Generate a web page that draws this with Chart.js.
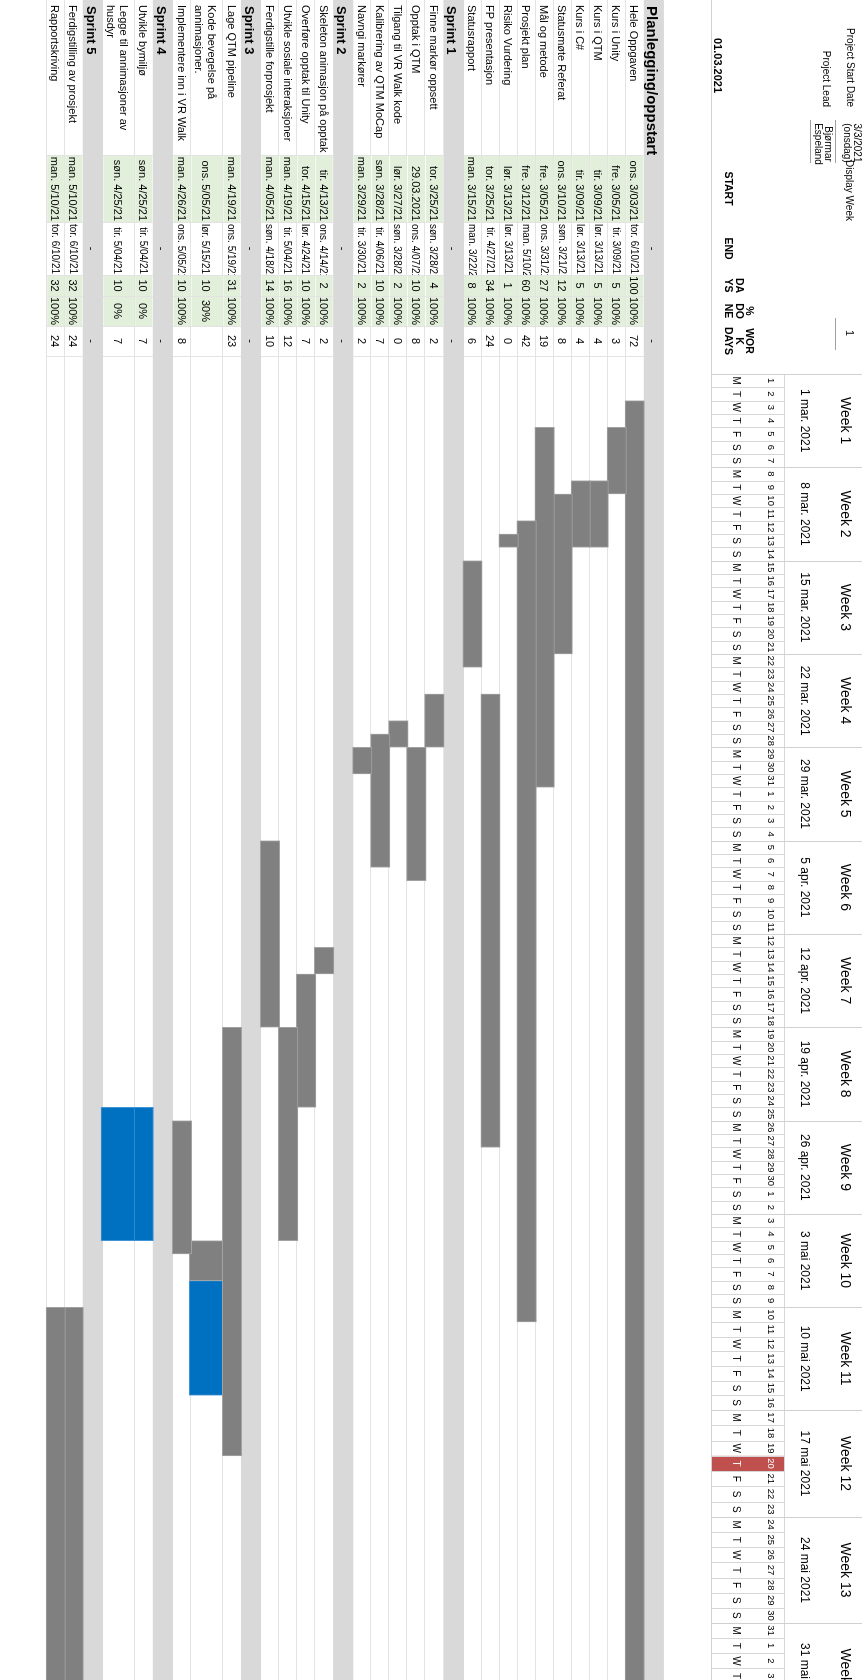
<!DOCTYPE html>
<html>
<head>
<meta charset="utf-8">
<script src="https://cdn.jsdelivr.net/npm/chart.js@4.4.1/dist/chart.umd.min.js"></script>
<style>
  html, body { margin: 0; padding: 0; background: #fff; }
  body { width: 862px; height: 1680px; overflow: hidden; position: relative; }
  /* the sheet is drawn landscape and turned a quarter clockwise */
  #sheet { position: absolute; left: 0; top: 0; width: 1680px; height: 862px;
           transform-origin: 0 0; transform: translate(862px, 0) rotate(90deg); }
</style>
</head>
<body>
<div id="sheet"><canvas id="gantt" width="1680" height="862"></canvas></div>
<script>
const projectStart = '2021-03-01';
const today = '2021-05-20';

const taskNames = [
  'Planlegging/oppstart', 'Hele Oppgaven', 'Kurs i Unity', 'Kurs i QTM', 'Kurs i C#',
  'Statusmøte Referat', 'Mål og metode', 'Prosjekt plan', 'Risiko Vurdering', 'FP presentasjon', 'Statusrapport',
  'Sprint 1', 'Finne markør oppsett', 'Opptak i QTM', 'Tilgang til VR Walk kode', 'Kalibrering av QTM MoCap', 'Navngi markører',
  'Sprint 2', 'Skeleton animasjon på opptak', 'Overføre opptak til Unity', 'Utvikle sosiale interaksjoner', 'Ferdigstille forprosjekt',
  'Sprint 3', 'Lage QTM pipeline', 'Kode bevegelse på\nannimasjoner.', 'Implementere inn i VR Walk',
  'Sprint 4', 'Utvikle bymiljø', 'Legge til annimasjoner av\nhusdyr',
  'Sprint 5', 'Ferdigstilling av prosjekt', 'Rapportskriving'
];
const startDates = [
  null, '2021-03-03', '2021-03-05', '2021-03-09', '2021-03-09',
  '2021-03-10', '2021-03-05', '2021-03-12', '2021-03-13', '2021-03-25', '2021-03-15',
  null, '2021-03-25', '2021-03-29', '2021-03-27', '2021-03-28', '2021-03-29',
  null, '2021-04-13', '2021-04-15', '2021-04-19', '2021-04-05',
  null, '2021-04-19', '2021-05-05', '2021-04-26',
  null, '2021-04-25', '2021-04-25',
  null, '2021-05-10', '2021-05-10'
];
const endDates = [
  null, '2021-06-10', '2021-03-09', '2021-03-13', '2021-03-13',
  '2021-03-21', '2021-03-31', '2021-05-10', '2021-03-13', '2021-04-27', '2021-03-22',
  null, '2021-03-28', '2021-04-07', '2021-03-28', '2021-04-06', '2021-03-30',
  null, '2021-04-14', '2021-04-24', '2021-05-04', '2021-04-18',
  null, '2021-05-19', '2021-05-15', '2021-05-05',
  null, '2021-05-04', '2021-05-04',
  null, '2021-06-10', '2021-06-10'
];
const startLabels = [
  '', 'ons. 3/03/21', 'fre. 3/05/21', 'tir. 3/09/21', 'tir. 3/09/21',
  'ons. 3/10/21', 'fre. 3/05/21', 'fre. 3/12/21', 'lør. 3/13/21', 'tor. 3/25/21', 'man. 3/15/21',
  '', 'tor. 3/25/21', '29.03.2021', 'lør. 3/27/21', 'søn. 3/28/21', 'man. 3/29/21',
  '', 'tir. 4/13/21', 'tor. 4/15/21', 'man. 4/19/21', 'man. 4/05/21',
  '', 'man. 4/19/21', 'ons. 5/05/21', 'man. 4/26/21',
  '', 'søn. 4/25/21', 'søn. 4/25/21',
  '', 'man. 5/10/21', 'man. 5/10/21'
];
const endLabels = [
  '-', 'tor. 6/10/21', 'tir. 3/09/21', 'lør. 3/13/21', 'lør. 3/13/21',
  'søn. 3/21/21', 'ons. 3/31/21', 'man. 5/10/21', 'lør. 3/13/21', 'tir. 4/27/21', 'man. 3/22/21',
  '-', 'søn. 3/28/21', 'ons. 4/07/21', 'søn. 3/28/21', 'tir. 4/06/21', 'tir. 3/30/21',
  '-', 'ons. 4/14/21', 'lør. 4/24/21', 'tir. 5/04/21', 'søn. 4/18/21',
  '-', 'ons. 5/19/21', 'lør. 5/15/21', 'ons. 5/05/21',
  '-', 'tir. 5/04/21', 'tir. 5/04/21',
  '-', 'tor. 6/10/21', 'tor. 6/10/21'
];
const durationDays = [null, 100, 5, 5, 5, 12, 27, 60, 1, 34, 8, null, 4, 10, 2, 10, 2, null, 2, 10, 16, 14, null, 31, 10, 10, null, 10, 10, null, 32, 32];
const percentDone  = [null, 100, 100, 100, 100, 100, 100, 100, 100, 100, 100, null, 100, 100, 100, 100, 100, null, 100, 100, 100, 100, null, 100, 30, 100, null, 0, 0, null, 100, 100];
const workDays     = ['-', 72, 3, 4, 4, 8, 19, 42, 0, 24, 6, '-', 2, 8, 0, 7, 2, '-', 2, 7, 12, 10, '-', 23, null, 8, '-', 7, 7, '-', 24, 24];

const weekLabels = ['Week 1', 'Week 2', 'Week 3', 'Week 4', 'Week 5', 'Week 6', 'Week 7',
  'Week 8', 'Week 9', 'Week 10', 'Week 11', 'Week 12', 'Week 13', 'Week 14'];
const weekDateLabels = ['1 mar. 2021', '8 mar. 2021', '15 mar. 2021', '22 mar. 2021', '29 mar. 2021',
  '5 apr. 2021', '12 apr. 2021', '19 apr. 2021', '26 apr. 2021', '3 mai 2021', '10 mai 2021',
  '17 mai 2021', '24 mai 2021', '31 mai 2021'];
const dayLetters = ['M', 'T', 'W', 'T', 'F', 'S', 'S'];
const VISIBLE_DAYS = 96;

// sheet geometry (landscape coordinates, before the quarter turn)
const FONT = "'Liberation Sans', Arial, sans-serif";
const GANTT_LEFT = 374;
const HEAD_H = 154;
const ROW_H = 20.6, SECTION_H = 23, TALL_H = 36.5;
// the day columns of the sheet get wider from week 11 on; week edges in px from GANTT_LEFT
const WEEK_EDGES = [0, 93.3, 186.7, 280, 373.3, 466.7, 560, 653.3, 746.7, 840, 933.3, 1036, 1143, 1249, 1355];
const COLS = {
  name: [0, 127], start: [155, 222], end: [222, 275],
  days: [275, 296], pct: [296, 326], work: [326, 356]
};
const GREEN = '#e2efda', SECTION_BG = '#d9d9d9', LINE = '#e3e3e3';
const DONE_COLOR = '#808080', TODO_COLOR = '#0070c0', TODAY_COLOR = '#c0504d';

class SheetDayScale extends Chart.LinearScale {
  getPixelForValue(value) {
    const v = Math.max(0, value);
    const w = Math.min(Math.floor(v / 7), WEEK_EDGES.length - 2);
    const f = (v - 7 * w) / 7;
    return this.left + WEEK_EDGES[w] + f * (WEEK_EDGES[w + 1] - WEEK_EDGES[w]);
  }
}
SheetDayScale.id = 'sheetDays';
SheetDayScale.defaults = { ticks: { callback: v => v } };
Chart.register(SheetDayScale);

const isSection = i => !startDates[i];
const isTall = i => taskNames[i].includes('\n');
const rowHeights = taskNames.map((n, i) => isSection(i) ? SECTION_H : (isTall(i) ? TALL_H : ROW_H));
const rowTops = [];
let acc = 0;
rowHeights.forEach(h => { rowTops.push(acc); acc += h; });
const TABLE_H = acc;

const dayIndex = iso => Math.round((Date.parse(iso) - Date.parse(projectStart)) / 86400000);

function buildBars(done, tall) {
  const out = [];
  taskNames.forEach((n, i) => {
    if (isSection(i) || isTall(i) !== tall) return;
    const s = dayIndex(startDates[i]);
    const e = dayIndex(endDates[i]) + 1;
    const split = percentDone[i] >= 100 ? e : s + durationDays[i] * percentDone[i] / 100;
    const seg = done ? [s, split] : [split, e];
    if (seg[1] - seg[0] <= 0) return;
    out.push({ x: seg, y: rowTops[i] + rowHeights[i] / 2 });
  });
  return out;
}

function barSet(label, done, tall) {
  return {
    label,
    data: buildBars(done, tall),
    backgroundColor: done ? DONE_COLOR : TODO_COLOR,
    borderColor: done ? '#a2a2a2' : '#3d92d4',
    borderWidth: 1,
    borderSkipped: false,
    barThickness: (tall ? TALL_H : ROW_H) - 1.2,
    grouped: false
  };
}

function cellText(ctx, text, col, y, align) {
  if (text === null || text === '') return;
  text = String(text);
  const [x0, x1] = col;
  const w = ctx.measureText(text).width;
  let x;
  if (align === 'center') x = (x0 + x1 - w) / 2;
  else if (align === 'right') x = w > x1 - x0 - 1 ? x0 + 2 : x1 - 1 - w;
  else x = x0 + 3;
  ctx.save();
  ctx.beginPath();
  ctx.rect(x0, y - 12, x1 - x0, 24);
  ctx.clip();
  ctx.fillText(text, x, y);
  ctx.restore();
}

function hLine(ctx, x0, x1, y, color) {
  ctx.strokeStyle = color;
  ctx.beginPath();
  ctx.moveTo(x0, Math.round(y) + 0.5);
  ctx.lineTo(x1, Math.round(y) + 0.5);
  ctx.stroke();
}
function vLine(ctx, x, y0, y1, color) {
  ctx.strokeStyle = color;
  ctx.beginPath();
  ctx.moveTo(Math.round(x) + 0.5, y0);
  ctx.lineTo(Math.round(x) + 0.5, y1);
  ctx.stroke();
}

const sheetPlugin = {
  id: 'sheet',
  beforeDatasetsDraw(chart) {
    const ctx = chart.ctx;
    const xs = chart.scales.x, ys = chart.scales.y;
    const W = chart.width;
    ctx.save();
    ctx.lineWidth = 1;
    ctx.textBaseline = 'middle';
    ctx.textAlign = 'left';

    // row backgrounds and grid
    taskNames.forEach((name, i) => {
      const top = ys.getPixelForValue(rowTops[i]);
      const bot = ys.getPixelForValue(rowTops[i] + rowHeights[i]);
      if (isSection(i)) {
        ctx.fillStyle = SECTION_BG;
        ctx.fillRect(0, top, W, bot - top);
      } else {
        ctx.fillStyle = GREEN;
        [COLS.start, COLS.days, COLS.pct].forEach(c => ctx.fillRect(c[0], top + 0.5, c[1] - c[0], bot - top - 1));
        [COLS.start[0], COLS.end[0], COLS.days[0], COLS.pct[0], COLS.work[0], COLS.work[1]]
          .forEach(x => vLine(ctx, x, top, bot, LINE));
        hLine(ctx, 0, W, bot, i + 1 < taskNames.length && isSection(i + 1) ? SECTION_BG : LINE);
      }
    });

    // table text
    taskNames.forEach((name, i) => {
      const top = ys.getPixelForValue(rowTops[i]);
      const mid = top + rowHeights[i] / 2;
      ctx.fillStyle = '#000';
      if (isSection(i)) {
        ctx.font = `bold ${i === 0 ? 15 : 13}px ${FONT}`;
        ctx.fillText(name, 6, mid + 1);
        ctx.font = `11px ${FONT}`;
        cellText(ctx, endLabels[i], COLS.end, mid, 'center');
        cellText(ctx, workDays[i], COLS.work, mid, 'center');
        return;
      }
      ctx.font = `11px ${FONT}`;
      const lines = name.split('\n');
      lines.forEach((ln, k) => ctx.fillText(ln, 5, mid + (k - (lines.length - 1) / 2) * 12.5));
      cellText(ctx, startLabels[i], COLS.start, mid, 'right');
      cellText(ctx, durationDays[i], COLS.days, mid, 'center');
      cellText(ctx, percentDone[i] + '%', COLS.pct, mid, 'center');
      cellText(ctx, workDays[i], COLS.work, mid, 'center');
      ctx.font = `10px ${FONT}`;
      cellText(ctx, endLabels[i], COLS.end, mid, 'right');
    });

    // header on the table side
    ctx.font = `10px ${FONT}`;
    ctx.textAlign = 'right';
    ctx.fillText('Project Start Date', 107, 12);
    ctx.fillText('Project Lead', 107, 36);
    ctx.textAlign = 'center';
    ctx.fillText('3/3/2021', 143, 5);
    ctx.fillText('(onsdag)', 143, 15);
    ctx.fillText('Bjørmar', 144, 34);
    ctx.fillText('Espeland', 144, 44);
    ctx.font = `11px ${FONT}`;
    ctx.fillText('1', 333, 13);
    ctx.font = `10px ${FONT}`;
    ctx.textAlign = 'left';
    ctx.fillText('Display Week', 160, 13);
    hLine(ctx, 120, 163, 26, '#a0a0a0');
    hLine(ctx, 120, 163, 51, '#a0a0a0');
    hLine(ctx, 318, 350, 26, '#a0a0a0');

    ctx.font = `bold 11px ${FONT}`;
    ctx.fillText('01.03.2021', 38, 145);
    ctx.textAlign = 'center';
    ctx.font = `bold 10.5px ${FONT}`;
    const colHead = [[COLS.start, ['START']], [COLS.end, ['END']], [COLS.days, ['DA', 'YS']],
      [COLS.pct, ['%', 'DO', 'NE']], [COLS.work, ['WOR', 'K', 'DAYS']]];
    colHead.forEach(([c, ls]) => {
      ls.forEach((t, k) => ctx.fillText(t, (c[0] + c[1]) / 2, 134 - (ls.length - 1 - k) * 10.5));
    });

    // timeline header
    const todayIdx = dayIndex(today);
    for (let d = 0; d < VISIBLE_DAYS; d++) {
      const x0 = xs.getPixelForValue(d), x1 = xs.getPixelForValue(d + 1);
      if (d === todayIdx) {
        ctx.fillStyle = TODAY_COLOR;
        ctx.fillRect(x0, 77, x1 - x0, 73);
      }
      vLine(ctx, x0, 77, 150, '#d6d6d6');
      const date = new Date(Date.parse(projectStart) + d * 86400000);
      ctx.fillStyle = d === todayIdx ? '#fff' : '#000';
      ctx.textAlign = 'center';
      ctx.font = `9.5px ${FONT}`;
      ctx.fillText(String(date.getUTCDate()), (x0 + x1) / 2, 91);
      ctx.font = `10px ${FONT}`;
      ctx.fillText(dayLetters[d % 7], (x0 + x1) / 2, 126);
    }
    hLine(ctx, GANTT_LEFT, W, 77, '#d6d6d6');
    hLine(ctx, 0, W, 150, '#d0d0d0');
    ctx.textAlign = 'center';
    ctx.fillStyle = '#000';
    weekLabels.forEach((lab, w) => {
      const x0 = xs.getPixelForValue(w * 7), x1 = xs.getPixelForValue(w * 7 + 7);
      vLine(ctx, x0, 0, 150, '#d0d0d0');
      ctx.font = `14px ${FONT}`;
      ctx.fillText(lab, (x0 + x1) / 2, 17);
      ctx.font = `12px ${FONT}`;
      ctx.fillText(weekDateLabels[w], (x0 + x1) / 2, 58);
    });
    ctx.restore();
  }
};

new Chart(document.getElementById('gantt'), {
  type: 'bar',
  data: {
    datasets: [
      barSet('Utført', true, false),
      barSet('Gjenstår', false, false),
      barSet('Utført (to linjer)', true, true),
      barSet('Gjenstår (to linjer)', false, true)
    ]
  },
  options: {
    indexAxis: 'y',
    responsive: false,
    animation: false,
    events: [],
    layout: { padding: { left: GANTT_LEFT, right: 0, top: HEAD_H, bottom: 862 - HEAD_H - TABLE_H } },
    plugins: { legend: { display: false }, tooltip: { enabled: false } },
    scales: {
      x: { type: 'sheetDays', min: 0, max: VISIBLE_DAYS, display: false },
      y: { type: 'linear', min: 0, max: TABLE_H, reverse: true, display: false }
    }
  },
  plugins: [sheetPlugin]
});
</script>
</body>
</html>
